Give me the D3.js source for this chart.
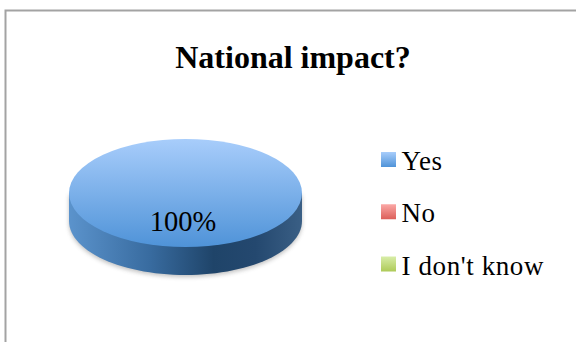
<!DOCTYPE html>
<html><head><meta charset="utf-8">
<script src="https://cdn.jsdelivr.net/npm/d3@7"></script>
<style>html,body{margin:0;padding:0;background:#fff}svg{display:block}</style>
</head><body><div id="c"></div>
<script>
const categories = ["Yes", "No", "I don't know"];
const values = [100, 0, 0];
const dataLabels = ["100%"];
const chartTitle = "National impact?";
const topColors = [["#a8cdfb","#4f93d8"],["#fba8a6","#dc5f59"],["#d8eda8","#aeca58"]];

const W = 576, H = 342;
const svg = d3.select("#c").append("svg").attr("width", W).attr("height", H);
const defs = svg.append("defs");
const serif = "'Liberation Serif', serif";

topColors.forEach((c, i) => {
  const g = defs.append("linearGradient").attr("id", "top" + i).attr("x1", 0).attr("y1", 0).attr("x2", 0).attr("y2", 1);
  g.append("stop").attr("offset", "0%").attr("stop-color", c[0]);
  g.append("stop").attr("offset", "100%").attr("stop-color", c[1]);
});
const side = defs.append("linearGradient").attr("id", "side").attr("x1", 0).attr("y1", 0).attr("x2", 1).attr("y2", 0);
[[0, "#5b93cc"], [0.35, "#386b9f"], [0.62, "#1f4469"], [0.8, "#24486f"], [1, "#3a5f85"]]
  .forEach(s => side.append("stop").attr("offset", s[0]).attr("stop-color", s[1]));
defs.append("filter").attr("id", "blur").attr("x", "-10%").attr("y", "-10%").attr("width", "120%").attr("height", "130%")
  .append("feGaussianBlur").attr("stdDeviation", 2);

// chart frame: only top and left edges are visible
svg.append("path").attr("d", d3.line()([[5.5, H], [5.5, 10.5], [W, 10.5]]))
  .attr("fill", "none").attr("stroke", "#a3a3a3").attr("stroke-width", 2);

svg.append("text").attr("x", 293).attr("y", 68).attr("text-anchor", "middle")
  .attr("font-family", serif).attr("font-weight", "bold").attr("font-size", 32).attr("fill", "#000")
  .text(chartTitle);

// 3D pie
const cx = 185.5, cy = 193, rx = 116.5, ry = 54, depth = 28;
const pieData = d3.pie().sort(null)(values);
const arc = d3.arc().innerRadius(0).outerRadius(rx);
const pie = svg.append("g");
const sideOutline = () => {
  const pts = d3.range(0, 181, 3).map(a => {
    const t = a * Math.PI / 180;
    return [cx + rx * Math.cos(t), cy + ry * Math.sin(t) + depth];
  });
  const p = d3.line()(pts);
  return `M${cx - rx},${cy}L${cx + rx},${cy}L${cx + rx},${cy + depth}` +
    p.replace(/^M[^L]*/, "") + "Z";
};
pie.append("path").attr("d", sideOutline()).attr("fill", "#777").attr("opacity", 0.45)
  .attr("filter", "url(#blur)").attr("transform", "translate(0,2)");
pie.append("path").attr("d", sideOutline()).attr("fill", "url(#side)");
pie.selectAll("path.slice").data(pieData).join("path").attr("class", "slice")
  .attr("d", arc)
  .attr("transform", `translate(${cx},${cy}) scale(1,${ry / rx})`)
  .attr("fill", (d, i) => `url(#top${i})`);

svg.append("text").attr("x", 183).attr("y", 231).attr("text-anchor", "middle")
  .attr("font-family", serif).attr("font-size", 28.5).attr("fill", "#000").text(dataLabels[0]);

// legend
const legendY = d3.scalePoint().domain(categories).range([159.5, 264]);
const lg = svg.selectAll("g.lg").data(categories).join("g").attr("class", "lg")
  .attr("transform", d => `translate(381,${legendY(d)})`);
lg.append("rect").attr("x", 0).attr("y", -7.5).attr("width", 15).attr("height", 15)
  .attr("fill", (d, i) => `url(#top${i})`);
lg.append("text").attr("x", 20.5).attr("y", 10.5).attr("font-family", serif).attr("font-size", 27)
  .attr("letter-spacing", 0.6).attr("fill", "#000").text(d => d);
</script></body></html>
